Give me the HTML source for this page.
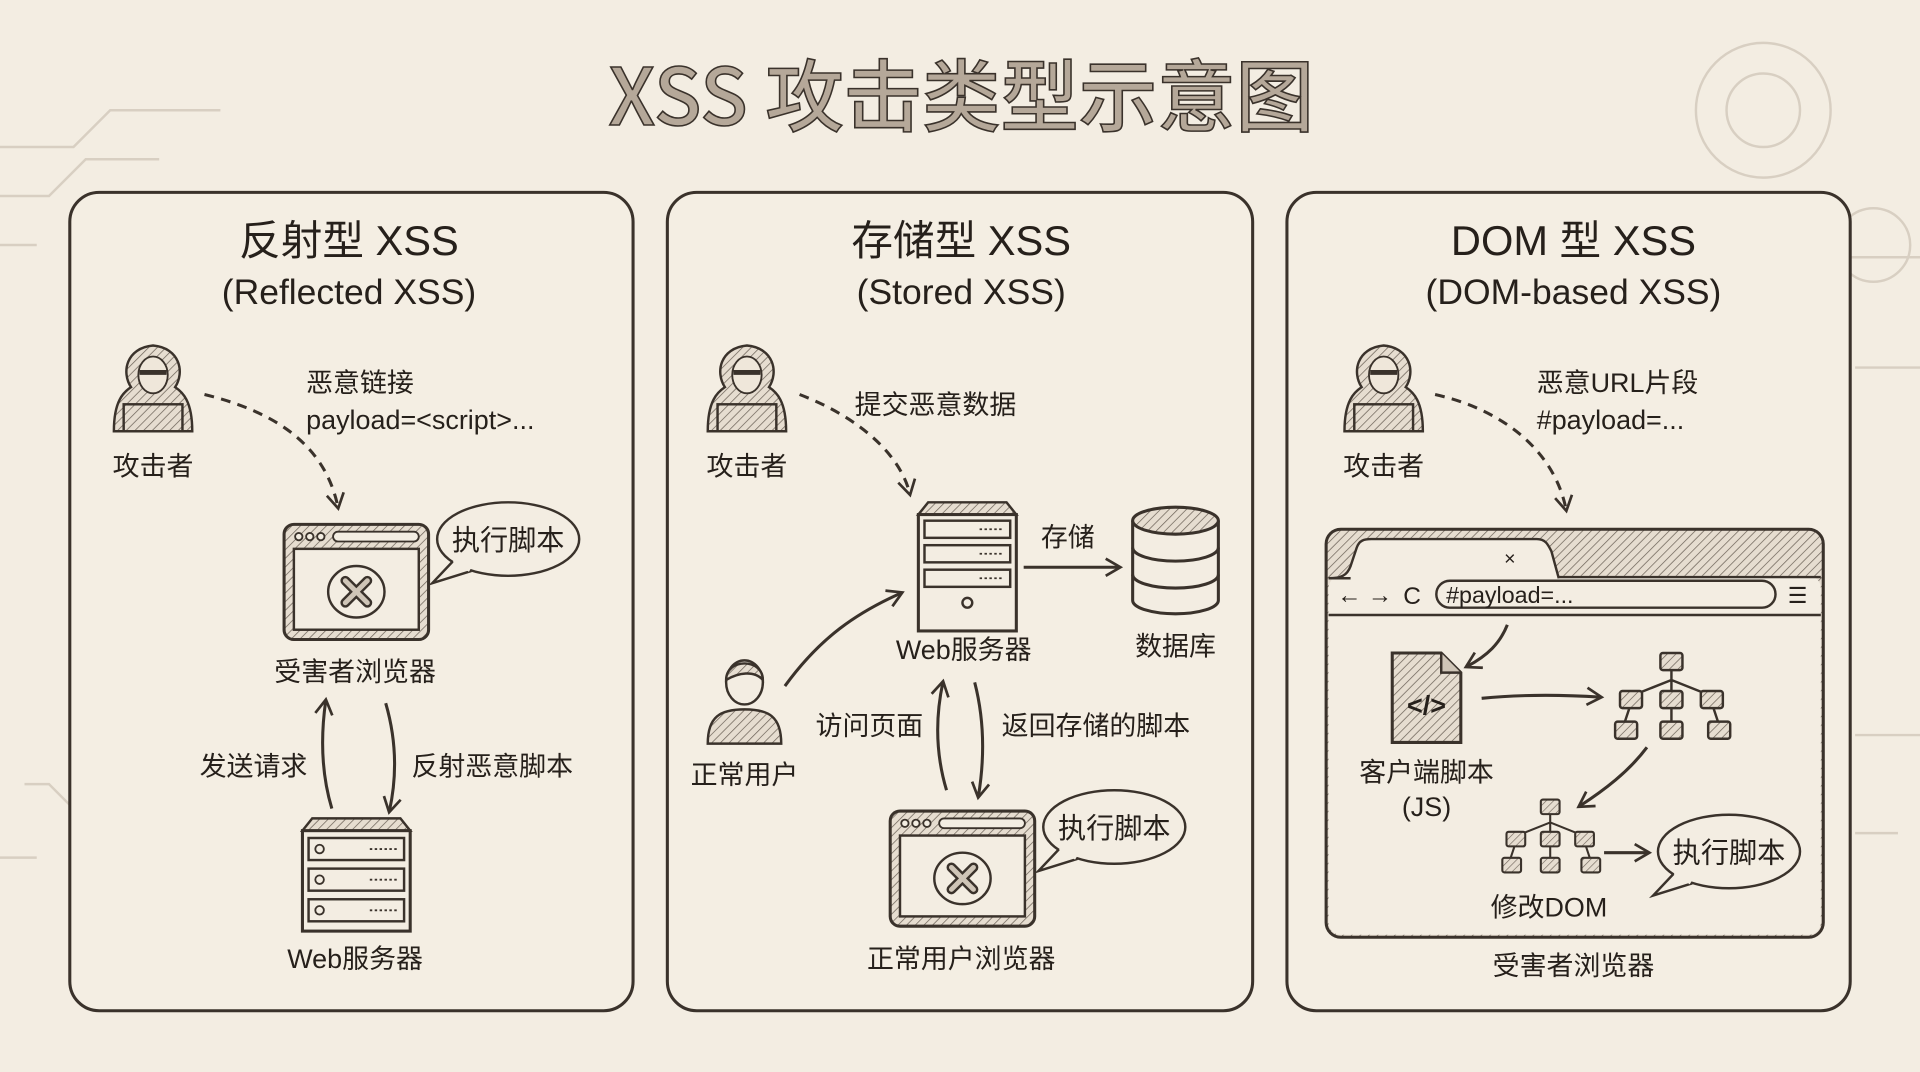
<!DOCTYPE html>
<html><head><meta charset="utf-8"><style>
html,body{margin:0;padding:0;background:#f3ede2;}
svg{display:block;}
text{font-family:"Liberation Sans","Noto Sans CJK SC",sans-serif;fill:#26201b;}
</style></head><body>
<svg width="1920" height="1072" viewBox="0 0 1568 875" preserveAspectRatio="none" xmlns="http://www.w3.org/2000/svg">
<defs>
<pattern id="h" width="5" height="5" patternUnits="userSpaceOnUse" patternTransform="rotate(45)"><rect width="5" height="5" fill="#e6ddd0"/><line x1="0" y1="0" x2="0" y2="5" stroke="#6e645a" stroke-width="1.2"/></pattern>
<marker id="a" markerWidth="18" markerHeight="18" refX="12" refY="8" orient="auto" markerUnits="userSpaceOnUse"><path d="M1,1 L13,8 L1,15" fill="none" stroke="#3a322b" stroke-width="2.2"/></marker>
<g id="hacker">
<path d="M-32,30 C-32,5 -24,-2 -18,-6 C-26,-18 -22,-38 0,-40 C22,-38 26,-18 18,-6 C24,-2 32,5 32,30 Z" fill="url(#h)" stroke="#3a322b" stroke-width="2"/>
<ellipse cx="0" cy="-16" rx="12" ry="15" fill="#efe7da" stroke="#3a322b" stroke-width="1.5"/>
<path d="M-11,-18 h22" stroke="#3a322b" stroke-width="4"/>
<rect x="-24" y="8" width="48" height="22" fill="url(#h)" stroke="#3a322b" stroke-width="2"/>
</g>
<g id="browser">
<rect x="0" y="0" width="118" height="94" rx="8" fill="url(#h)" stroke="#3a322b" stroke-width="2.5"/>
<rect x="8" y="20" width="102" height="66" fill="#f3ede2" stroke="#3a322b" stroke-width="2"/>
<circle cx="12" cy="10" r="3" fill="#f3ede2" stroke="#3a322b" stroke-width="1.5"/><circle cx="21" cy="10" r="3" fill="#f3ede2" stroke="#3a322b" stroke-width="1.5"/><circle cx="30" cy="10" r="3" fill="#f3ede2" stroke="#3a322b" stroke-width="1.5"/>
<rect x="40" y="6" width="70" height="8" rx="4" fill="#f3ede2" stroke="#3a322b" stroke-width="1.5"/>
<ellipse cx="59" cy="55" rx="23" ry="21" fill="#f3ede2" stroke="#3a322b" stroke-width="2"/>
<path d="M50,46 L68,64 M68,46 L50,64" stroke="#3a322b" stroke-width="8" stroke-linecap="round"/><path d="M50,46 L68,64 M68,46 L50,64" stroke="#cfc5b7" stroke-width="4" stroke-linecap="round"/>
</g>
<g id="bubble">
<ellipse cx="0" cy="0" rx="58" ry="30" fill="#f3ede2" stroke="#3a322b" stroke-width="2"/>
<path d="M-45,18 L-62,36 L-30,26" fill="#f3ede2" stroke="#3a322b" stroke-width="2"/>
<path d="M-44,17 L-31,25" stroke="#f3ede2" stroke-width="4"/>
<text x="0" y="9" font-size="23" text-anchor="middle">执行脚本</text>
</g>
<g id="rack">
<path d="M8,0 L80,0 L88,10 L0,10 Z" fill="url(#h)" stroke="#3a322b" stroke-width="2"/>
<rect x="0" y="10" width="88" height="82" fill="#f3ede2" stroke="#3a322b" stroke-width="2.5"/>
<g fill="#f3ede2" stroke="#3a322b" stroke-width="2"><rect x="5" y="16" width="78" height="18"/><rect x="5" y="41" width="78" height="18"/><rect x="5" y="66" width="78" height="18"/></g>
<g fill="none" stroke="#3a322b" stroke-width="1.5"><circle cx="14" cy="25" r="3.5"/><circle cx="14" cy="50" r="3.5"/><circle cx="14" cy="75" r="3.5"/></g>
<g stroke="#3a322b" stroke-width="1.5" stroke-dasharray="2 2"><line x1="55" y1="25" x2="77" y2="25"/><line x1="55" y1="50" x2="77" y2="50"/><line x1="55" y1="75" x2="77" y2="75"/></g>
</g>
<g id="tree">
<g stroke="#3a322b" stroke-width="2" fill="none"><path d="M0,10 V24 M0,18 L-30,30 M0,18 L30,30 M0,24 V30 M-34,40 L-38,52 M0,40 V52 M34,40 L38,52"/></g>
<g fill="url(#h)" stroke="#3a322b" stroke-width="2"><rect x="-9" y="-4" width="18" height="14" rx="2"/><rect x="-42" y="27" width="18" height="14" rx="2"/><rect x="-9" y="27" width="18" height="14" rx="2"/><rect x="24" y="27" width="18" height="14" rx="2"/><rect x="-46" y="52" width="18" height="14" rx="2"/><rect x="-9" y="52" width="18" height="14" rx="2"/><rect x="30" y="52" width="18" height="14" rx="2"/></g>
</g>
</defs>
<rect width="1568" height="875" fill="#f3ede2"/>
<g stroke="#d8cfc2" stroke-width="2" fill="none">
<path d="M0,120 H60 L90,90 H180 M0,160 H40 L70,130 H130 M0,200 H30 M20,640 H40 L60,660 V740 M0,700 H30 M1510,210 H1568 M1515,300 H1568 M1515,600 H1568 M1515,680 H1550"/>
<circle cx="1440" cy="90" r="55"/><circle cx="1440" cy="90" r="30"/><circle cx="1530" cy="200" r="30"/>
</g>
<text x="785" y="102" font-size="64" font-weight="500" text-anchor="middle" fill="#b5a899" stroke="#3a322b" stroke-width="1.3" style="font-family:'Noto Sans CJK SC','Liberation Sans',sans-serif;fill:#b5a899">XSS 攻击类型示意图</text>
<g fill="#f4eee3" stroke="#3a322b" stroke-width="2.5">
<rect x="57" y="157" width="460" height="668" rx="24"/>
<rect x="545" y="157" width="478" height="668" rx="24"/>
<rect x="1051" y="157" width="460" height="668" rx="24"/>
</g>

<text x="285" y="208" font-size="34" text-anchor="middle">反射型 XSS</text>
<text x="285" y="248" font-size="29" text-anchor="middle">(Reflected XSS)</text>
<use href="#hacker" x="125" y="322"/>
<text x="125" y="388" font-size="22" text-anchor="middle">攻击者</text>
<text x="250" y="320" font-size="22">恶意链接</text>
<text x="250" y="350" font-size="22">payload=&lt;script&gt;...</text>
<path d="M167,322 C220,335 265,360 276,414" fill="none" stroke="#3a322b" stroke-width="2.5" stroke-dasharray="8 6" marker-end="url(#a)"/>
<use href="#browser" x="232" y="428"/>
<use href="#bubble" x="415" y="440"/>
<text x="290" y="556" font-size="22" text-anchor="middle">受害者浏览器</text>
<path d="M271,660 C262,630 262,600 266,572" fill="none" stroke="#3a322b" stroke-width="2.5" marker-end="url(#a)"/>
<path d="M315,574 C324,605 324,635 318,662" fill="none" stroke="#3a322b" stroke-width="2.5" marker-end="url(#a)"/>
<text x="207" y="633" font-size="22" text-anchor="middle">发送请求</text>
<text x="402" y="633" font-size="22" text-anchor="middle">反射恶意脚本</text>
<use href="#rack" x="247" y="668"/>
<text x="290" y="790" font-size="22" text-anchor="middle">Web服务器</text>

<text x="785" y="208" font-size="34" text-anchor="middle">存储型 XSS</text>
<text x="785" y="248" font-size="29" text-anchor="middle">(Stored XSS)</text>
<use href="#hacker" x="610" y="322"/>
<text x="610" y="388" font-size="22" text-anchor="middle">攻击者</text>
<text x="698" y="338" font-size="22">提交恶意数据</text>
<path d="M653,322 C700,340 735,370 743,403" fill="none" stroke="#3a322b" stroke-width="2.5" stroke-dasharray="8 6" marker-end="url(#a)"/>
<g transform="translate(750,410)">
<path d="M8,0 L72,0 L80,10 L0,10 Z" fill="url(#h)" stroke="#3a322b" stroke-width="2"/>
<rect x="0" y="10" width="80" height="95" fill="#f3ede2" stroke="#3a322b" stroke-width="2.5"/>
<g fill="#f3ede2" stroke="#3a322b" stroke-width="2"><rect x="5" y="15" width="70" height="14"/><rect x="5" y="35" width="70" height="14"/><rect x="5" y="55" width="70" height="14"/></g>
<circle cx="40" cy="82" r="4" fill="none" stroke="#3a322b" stroke-width="2"/>
<g stroke="#3a322b" stroke-width="1.5" stroke-dasharray="2 2"><line x1="50" y1="22" x2="70" y2="22"/><line x1="50" y1="42" x2="70" y2="42"/><line x1="50" y1="62" x2="70" y2="62"/></g>
</g>
<text x="787" y="538" font-size="22" text-anchor="middle">Web服务器</text>
<path d="M836,463 H914" fill="none" stroke="#3a322b" stroke-width="2.5" marker-end="url(#a)"/>
<text x="872" y="446" font-size="22" text-anchor="middle">存储</text>
<g transform="translate(960,0)" stroke="#3a322b" stroke-width="2.5">
<path d="M-35,425 V490 A35,11 0 0 0 35,490 V425" fill="#f3ede2"/>
<ellipse cx="0" cy="425" rx="35" ry="11" fill="url(#h)"/>
<path d="M-35,447 A35,11 0 0 0 35,447 M-35,469 A35,11 0 0 0 35,469" fill="none"/>
</g>
<text x="960" y="535" font-size="22" text-anchor="middle">数据库</text>
<g transform="translate(608,565)" stroke="#3a322b" stroke-width="2">
<path d="M-30,42 C-30,20 -20,14 0,14 C20,14 30,20 30,42 Z" fill="url(#h)"/>
<ellipse cx="0" cy="-8" rx="15" ry="18" fill="#f3ede2"/>
<path d="M-15,-10 C-15,-28 15,-28 15,-10 C8,-18 -5,-16 -15,-10 Z" fill="url(#h)"/>
</g>
<text x="608" y="640" font-size="22" text-anchor="middle">正常用户</text>
<path d="M641,560 C670,520 700,500 736,484" fill="none" stroke="#3a322b" stroke-width="2.5" marker-end="url(#a)"/>
<text x="710" y="600" font-size="22" text-anchor="middle">访问页面</text>
<text x="895" y="600" font-size="22" text-anchor="middle">返回存储的脚本</text>
<path d="M773,645 C764,615 764,585 770,557" fill="none" stroke="#3a322b" stroke-width="2.5" marker-end="url(#a)"/>
<path d="M796,557 C804,588 804,620 799,650" fill="none" stroke="#3a322b" stroke-width="2.5" marker-end="url(#a)"/>
<use href="#browser" x="727" y="662"/>
<use href="#bubble" x="910" y="675"/>
<text x="785" y="790" font-size="22" text-anchor="middle">正常用户浏览器</text>

<text x="1285" y="208" font-size="34" text-anchor="middle">DOM 型 XSS</text>
<text x="1285" y="248" font-size="29" text-anchor="middle">(DOM-based XSS)</text>
<use href="#hacker" x="1130" y="322"/>
<text x="1130" y="388" font-size="22" text-anchor="middle">攻击者</text>
<text x="1255" y="320" font-size="22">恶意URL片段</text>
<text x="1255" y="350" font-size="22">#payload=...</text>
<path d="M1172,322 C1230,335 1270,370 1279,416" fill="none" stroke="#3a322b" stroke-width="2.5" stroke-dasharray="8 6" marker-end="url(#a)"/>
<rect x="1083" y="432" width="406" height="333" rx="12" fill="url(#h)" stroke="#3a322b" stroke-width="2.5"/>
<rect x="1085" y="470" width="402" height="293" rx="10" fill="#f3ede2"/>
<path d="M1085,472 C1095,472 1100,470 1103,462 L1108,447 C1110,441 1114,440 1120,440 L1255,440 C1262,440 1264,444 1267,450 L1273,472" fill="#f3ede2" stroke="#3a322b" stroke-width="2"/>
<line x1="1085" y1="472" x2="1103" y2="472" stroke="#3a322b" stroke-width="2"/>
<line x1="1273" y1="471" x2="1487" y2="471" stroke="#3a322b" stroke-width="2"/>
<text x="1233" y="461" font-size="16" text-anchor="middle">×</text>
<text x="1092" y="492" font-size="20" fill="#6a6058">←</text>
<text x="1117" y="492" font-size="20" fill="#8a8076">→</text>
<text x="1146" y="493" font-size="20">C</text>
<rect x="1173" y="474" width="277" height="22" rx="11" fill="#f3ede2" stroke="#3a322b" stroke-width="2"/>
<text x="1181" y="492" font-size="19">#payload=...</text>
<text x="1460" y="492" font-size="18">☰</text>
<line x1="1085" y1="502" x2="1487" y2="502" stroke="#3a322b" stroke-width="2"/>
<path d="M1231,510 C1225,525 1215,535 1198,544" fill="none" stroke="#3a322b" stroke-width="2.5" marker-end="url(#a)"/>
<g transform="translate(1137,533)">
<path d="M0,0 H40 L56,16 V73 H0 Z" fill="url(#h)" stroke="#3a322b" stroke-width="2.5"/>
<path d="M40,0 V16 H56" fill="#cfc5b7" stroke="#3a322b" stroke-width="2"/>
<text x="28" y="50" font-size="22" text-anchor="middle" font-weight="bold">&lt;/&gt;</text>
</g>
<text x="1165" y="638" font-size="22" text-anchor="middle">客户端脚本</text>
<text x="1165" y="666" font-size="22" text-anchor="middle">(JS)</text>
<path d="M1210,570 C1240,567 1275,567 1307,569" fill="none" stroke="#3a322b" stroke-width="2.5" marker-end="url(#a)"/>
<use href="#tree" x="1365" y="537"/>
<path d="M1345,610 C1330,630 1310,645 1290,658" fill="none" stroke="#3a322b" stroke-width="2.5" marker-end="url(#a)"/>
<g transform="translate(1266,656) scale(0.85)"><use href="#tree"/></g>
<text x="1265" y="748" font-size="22" text-anchor="middle">修改DOM</text>
<path d="M1310,696 H1346" fill="none" stroke="#3a322b" stroke-width="2.5" marker-end="url(#a)"/>
<use href="#bubble" x="1412" y="695"/>
<text x="1285" y="796" font-size="22" text-anchor="middle">受害者浏览器</text>
</svg>
</body></html>
